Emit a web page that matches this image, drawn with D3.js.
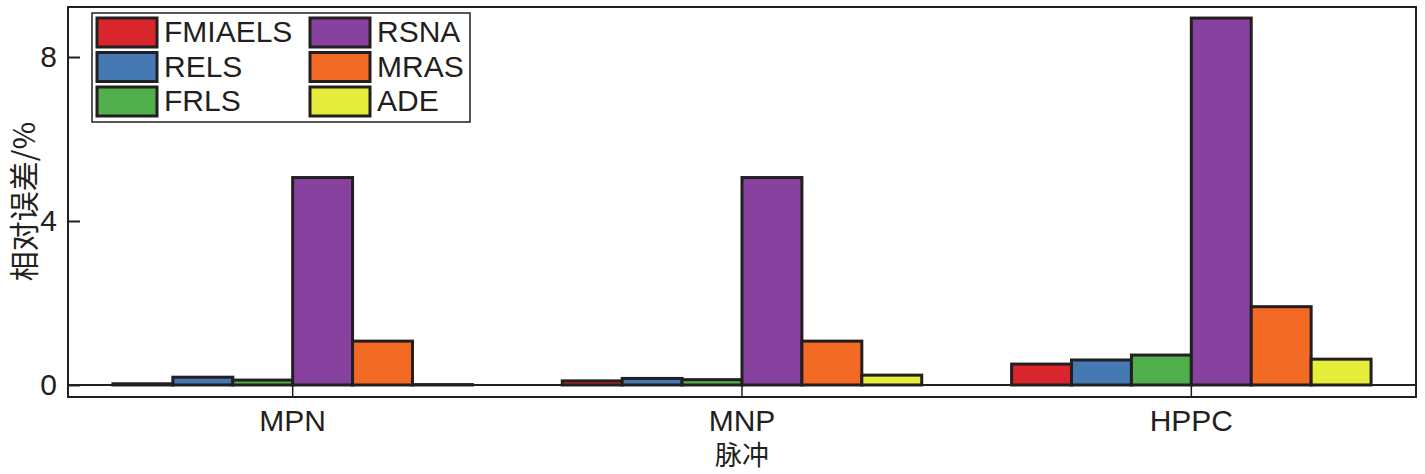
<!DOCTYPE html>
<html>
<head>
<meta charset="utf-8">
<script src="https://cdn.jsdelivr.net/npm/d3@7/dist/d3.min.js"></script>
<style>
  html, body { margin: 0; padding: 0; background: #fff; }
  svg { display: block; }
</style>
</head>
<body>
<svg id="chart" width="1425" height="474"></svg>
<script>
// ---- data ----
const categories = ["MPN", "MNP", "HPPC"];
const seriesNames = ["FMIAELS", "RELS", "FRLS", "RSNA", "MRAS", "ADE"];
const seriesColors = ["#d8262c", "#4479b4", "#50ae4b", "#8742a0", "#f26a24", "#e6ee3c"];
const FMIAELS = [0.03, 0.10, 0.51];
const RELS    = [0.19, 0.16, 0.61];
const FRLS    = [0.12, 0.13, 0.73];
const RSNA    = [5.06, 5.06, 8.95];
const MRAS    = [1.07, 1.07, 1.91];
const ADE     = [0.01, 0.24, 0.63];
const yTicks = [0, 4, 8];
const xTitle = "脉冲";
const yTitle = "相对误差/%";

const values = [FMIAELS, RELS, FRLS, RSNA, MRAS, ADE];

// ---- layout ----
const svg = d3.select("#chart");
const L = 68, R = 1416, T = 7, B = 397;
const ink = "#231f20";
const latin = "'Liberation Sans', Arial, sans-serif";
const cjk = "'Noto Sans CJK SC', 'Liberation Sans', sans-serif";

const x0 = d3.scaleBand().domain(categories).range([L, R]).paddingInner(0).paddingOuter(0);
const x1 = d3.scaleBand().domain(seriesNames).range([0, x0.bandwidth() * 0.8]);
const y = d3.scaleLinear().domain([-0.293, 9.22]).range([B, T]);

// bars
const groups = svg.append("g").selectAll("g")
  .data(categories)
  .join("g")
  .attr("transform", d => `translate(${x0(d) + x0.bandwidth() * 0.1},0)`);

groups.selectAll("rect")
  .data((c, ci) => seriesNames.map((s, si) => ({ s, si, v: values[si][ci] })))
  .join("rect")
  .attr("x", d => x1(d.s))
  .attr("width", x1.bandwidth())
  .attr("y", d => y(d.v))
  .attr("height", d => Math.max(0, y(0) - y(d.v)))
  .attr("fill", d => seriesColors[d.si])
  .attr("stroke", ink)
  .attr("stroke-width", 3);

// zero line
svg.append("line")
  .attr("x1", L).attr("x2", R)
  .attr("y1", y(0)).attr("y2", y(0))
  .attr("stroke", ink).attr("stroke-width", 2);

// y axis
const yAxis = d3.axisLeft(y).tickValues(yTicks).tickSize(-12).tickPadding(11).tickFormat(d3.format("d"));
const gy = svg.append("g").attr("transform", `translate(${L},0)`).call(yAxis);
gy.select(".domain").remove();
gy.selectAll(".tick line").attr("stroke", ink).attr("stroke-width", 2);
gy.selectAll(".tick text").attr("font-family", latin).attr("font-size", 30).attr("fill", ink);

// x axis
const xAxis = d3.axisBottom(x0).tickSize(-12).tickPadding(13).tickSizeOuter(0);
const gx = svg.append("g").attr("transform", `translate(0,${B})`).call(xAxis);
gx.select(".domain").remove();
gx.selectAll(".tick line").attr("stroke", ink).attr("stroke-width", 1.5);
gx.selectAll(".tick text").attr("font-family", latin).attr("font-size", 30).attr("fill", ink);

// frame
svg.append("rect")
  .attr("x", L).attr("y", T).attr("width", R - L).attr("height", B - T)
  .attr("fill", "none").attr("stroke", ink).attr("stroke-width", 2);

// axis titles
svg.append("text")
  .attr("x", (L + R) / 2).attr("y", 465)
  .attr("text-anchor", "middle")
  .attr("font-family", cjk).attr("font-size", 27).attr("fill", ink)
  .text(xTitle);

svg.append("text")
  .attr("transform", `translate(35,${(123 + 280) / 2}) rotate(-90)`)
  .attr("text-anchor", "middle")
  .attr("font-family", cjk).attr("font-size", 30).attr("fill", ink)
  .text(yTitle);

// legend
const lg = svg.append("g");
lg.append("rect")
  .attr("x", 92).attr("y", 13).attr("width", 378).attr("height", 109)
  .attr("fill", "#fff").attr("stroke", ink).attr("stroke-width", 1.5);

const colX = [97, 310];
const rowY = [18, 52.5, 87];
seriesNames.forEach((name, i) => {
  const c = Math.floor(i / 3), r = i % 3;
  const g = lg.append("g").attr("transform", `translate(${colX[c]},${rowY[r]})`);
  g.append("rect")
    .attr("x", 0).attr("y", 0).attr("width", 60).attr("height", 29)
    .attr("fill", seriesColors[i]).attr("stroke", ink).attr("stroke-width", 3);
  g.append("text")
    .attr("x", 67).attr("y", 24)
    .attr("font-family", latin).attr("font-size", 30).attr("fill", ink)
    .text(name);
});
</script>
</body>
</html>
